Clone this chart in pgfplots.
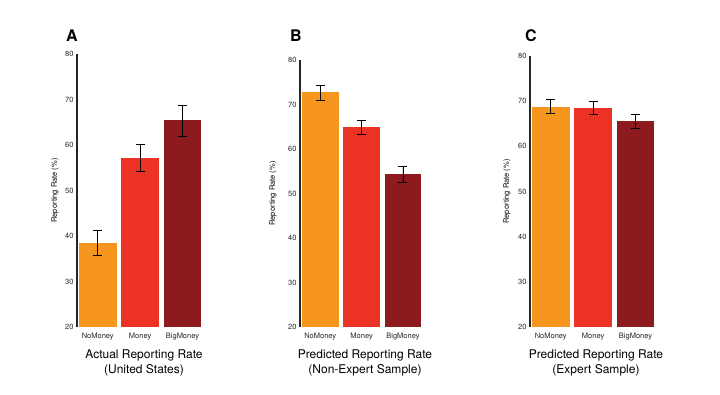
\documentclass[border=0pt]{standalone}
\usepackage{fontspec}
\setmainfont{TeX Gyre Heros}
\usepackage{pgfplots}
\pgfplotsset{compat=1.18}
\definecolor{cOrange}{RGB}{247,150,30}
\definecolor{cRed}{RGB}{236,50,37}
\definecolor{cDark}{RGB}{140,26,31}
\pgfplotsset{
  panel/.style={
    scale only axis, anchor=south west,
    ymin=20, ymax=80, ytick={20,30,40,50,60,70,80},
    xmin=-0.49, xmax=2.46, xtick={0,1,2},
    xticklabels={NoMoney,Money,BigMoney},
    axis lines*=left,
    x axis line style={draw=none},
    y axis line style={line width=1.6pt, color=black!85},
    major tick length=0pt,
    /pgf/number format/assume math mode=true,
    tick label style={font=\fontsize{7.5}{8}\selectfont, color=black!85},
    xticklabel style={yshift=-2.5pt},
    ylabel={Reporting Rate (\%)},
    ylabel style={font=\fontsize{7.5}{8}\selectfont, anchor=center},
    ybar, bar width=0.89,
    clip=true,
  },
  barA/.style={bar shift=0pt, draw=none, fill=#1,
    error bars/.cd, y dir=both, y explicit,
    error bar style={line width=0.7pt, black},
    error mark options={rotate=90, mark size=4.5pt, line width=0.7pt, black}},
}
\begin{document}
\begin{tikzpicture}
\useasboundingbox (0,0) rectangle (720pt,395pt);
% Panel A
\begin{axis}[panel, at={(77pt,68pt)}, width=125pt, height=273pt,
  ylabel style={at={(axis description cs:-0.176,0.5)}}]
\addplot[barA=cOrange] coordinates {(0,38.5) +- (0,2.8)};
\addplot[barA=cRed] coordinates {(1,57.2) +- (0,2.9)};
\addplot[barA=cDark] coordinates {(2,65.4) +- (0,3.4)};
\end{axis}
% Panel B
\begin{axis}[panel, at={(300pt,68pt)}, width=122pt, height=267pt,
  ylabel style={at={(axis description cs:-0.221,0.5)}}]
\addplot[barA=cOrange] coordinates {(0,72.7) +- (0,1.7)};
\addplot[barA=cRed] coordinates {(1,64.9) +- (0,1.6)};
\addplot[barA=cDark] coordinates {(2,54.3) +- (0,1.8)};
\end{axis}
% Panel C
\begin{axis}[panel, at={(530pt,68pt)}, width=125pt, height=271pt,
  ylabel style={at={(axis description cs:-0.184,0.5)}}]
\addplot[barA=cOrange] coordinates {(0,68.8) +- (0,1.5)};
\addplot[barA=cRed] coordinates {(1,68.5) +- (0,1.4)};
\addplot[barA=cDark] coordinates {(2,65.5) +- (0,1.5)};
\end{axis}
\node[font=\bfseries\fontsize{16}{16}\selectfont] at (72pt,359.5pt) {A};
\node[font=\bfseries\fontsize{16}{16}\selectfont] at (296pt,359.5pt) {B};
\node[font=\bfseries\fontsize{16}{16}\selectfont] at (531pt,359.5pt) {C};
\node[align=center, font=\fontsize{12}{15}\selectfont] at (144pt,32.5pt) {Actual Reporting Rate\\(United States)};
\node[align=center, font=\fontsize{12}{15}\selectfont] at (365pt,32.5pt) {Predicted Reporting Rate\\(Non-Expert Sample)};
\node[align=center, font=\fontsize{12}{15}\selectfont] at (596pt,32.5pt) {Predicted Reporting Rate\\(Expert Sample)};
\end{tikzpicture}
\end{document}
